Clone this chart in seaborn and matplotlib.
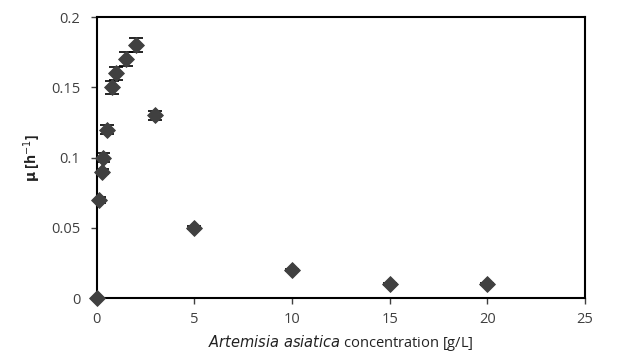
import numpy as np
import pandas as pd
import matplotlib.pyplot as plt
import seaborn as sns

# values
conc = [0, 0.1, 0.25, 0.3, 0.5, 0.75, 1, 1.5, 2, 3, 5, 10, 15, 20]
mu = [0, 0.07, 0.09, 0.10, 0.12, 0.15, 0.16, 0.17, 0.18, 0.13, 0.05, 0.02, 0.01, 0.01]
err = [0, 0.002, 0.002, 0.003, 0.003, 0.0045, 0.0047, 0.005, 0.005, 0.003, 0.001, 0.001, 0.001, 0.001]

df = pd.DataFrame({'conc': conc, 'mu': mu, 'err': err})

sns.set_style('white')
plt.rcParams['font.family'] = ['Open Sans', 'DejaVu Sans']

fig = plt.figure(figsize=(6.29, 3.57), dpi=100)
ax = fig.add_axes([0.154, 0.165, 0.776, 0.787])

ax.errorbar(df['conc'], df['mu'], yerr=df['err'], fmt='none', ecolor='black',
            elinewidth=1, capsize=5, capthick=1.2, zorder=2)
sns.scatterplot(data=df, x='conc', y='mu', marker='D', s=65, color='#404040',
                edgecolor='#404040', ax=ax, zorder=3, clip_on=False)

ax.set_xlim(0, 25)
ax.set_ylim(0, 0.2)
ax.set_xticks([0, 5, 10, 15, 20, 25])
ax.set_yticks([0, 0.05, 0.1, 0.15, 0.2])
ax.set_yticklabels(['0', '0.05', '0.1', '0.15', '0.2'])
ax.tick_params(axis='both', direction='out', length=4, width=1, color='#404040',
               labelsize=10.5, labelcolor='#404040', left=True, bottom=True)
ax.tick_params(axis='x', pad=6)
ax.tick_params(axis='y', pad=8)
for sp in ax.spines.values():
    sp.set_color('black')
    sp.set_linewidth(1.5)

ax.set_xlabel(r'$\it{Artemisia\ asiatica}$ concentration [g/L]', fontsize=10.5,
              color='#222222', labelpad=4)
ax.set_ylabel(r'$\mathbf{\mu}$ [h$^{-1}$]', fontsize=10, fontweight='bold',
              color='#222222', labelpad=6)

fig.savefig('out.png', dpi=100)
